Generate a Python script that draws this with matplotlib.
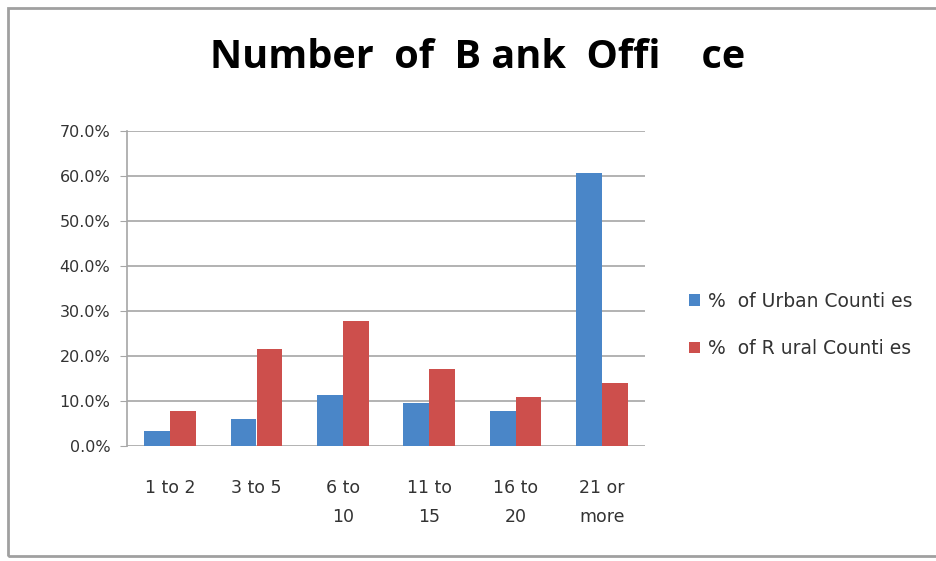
import numpy as np
import matplotlib.pyplot as plt
from matplotlib.patches import Rectangle

# bank office counts per county, share of counties in each bucket
categories = ["1 to 2", "3 to 5", "6 to\n10", "11 to\n15", "16 to\n20", "21 or\nmore"]
urban_pct = [3.3, 6.0, 11.3, 9.6, 7.8, 60.7]
rural_pct = [7.7, 21.5, 27.7, 17.1, 10.9, 13.9]
yticks = [0, 10, 20, 30, 40, 50, 60, 70]

urban_color = "#4A86C8"
rural_color = "#CD4F4C"
grid_color = "#A6A6A6"
text_color = "#333333"

plt.rcParams["font.family"] = ["DejaVu Sans"]

fig = plt.figure(figsize=(9.36, 5.61), dpi=100)
ax = fig.add_axes([127 / 936, 1 - 446 / 561, 518 / 936, 315 / 561])

x = np.arange(len(categories))
w = 0.3
ax.bar(x - w / 2, urban_pct, w, color=urban_color, label="%  of Urban Counti es", zorder=3)
ax.bar(x + w / 2, rural_pct, w, color=rural_color, label="%  of R ural Counti es", zorder=3)

ax.set_xlim(-0.5, len(categories) - 0.5)
ax.set_ylim(0, 70)
ax.set_yticks(yticks)
ax.set_yticklabels([f"{v:.1f}%" for v in yticks], fontsize=11.5, color=text_color,
                   fontfamily="DejaVu Sans")
ax.set_xticks(x)
ax.set_xticklabels(categories, fontsize=12.5, color=text_color, linespacing=1.75,
                   va="top", fontfamily="DejaVu Sans")
ax.tick_params(axis="x", length=0, pad=24)
ax.tick_params(axis="y", length=5, color=grid_color, pad=7)

ax.grid(axis="y", color=grid_color, linewidth=1.2, zorder=0)
for side in ["top", "right", "bottom"]:
    ax.spines[side].set_visible(False)
ax.spines["left"].set_color(grid_color)
ax.spines["left"].set_linewidth(1.2)

fig.text(478 / 936, 1 - 58 / 561, "Number  of  B ank  Offi    ce", fontsize=28.5,
         fontweight="bold", ha="center", va="center", family="Open Sans")

ax.legend(loc="center left", bbox_to_anchor=(672 / 936, 1 - 325 / 561),
          bbox_transform=fig.transFigure, frameon=False,
          prop={"family": "DejaVu Sans", "size": 13.5},
          handlelength=0.6, handleheight=0.6, handletextpad=0.4, labelspacing=1.5,
          labelcolor=text_color)

# outer chart frame, running off the right edge
fig.patches.append(Rectangle((8 / 936, 1 - 556 / 561), 1.0, 548 / 561,
                             transform=fig.transFigure, fill=False,
                             edgecolor="#A0A0A0", linewidth=2))

fig.savefig("out.png", dpi=100)
